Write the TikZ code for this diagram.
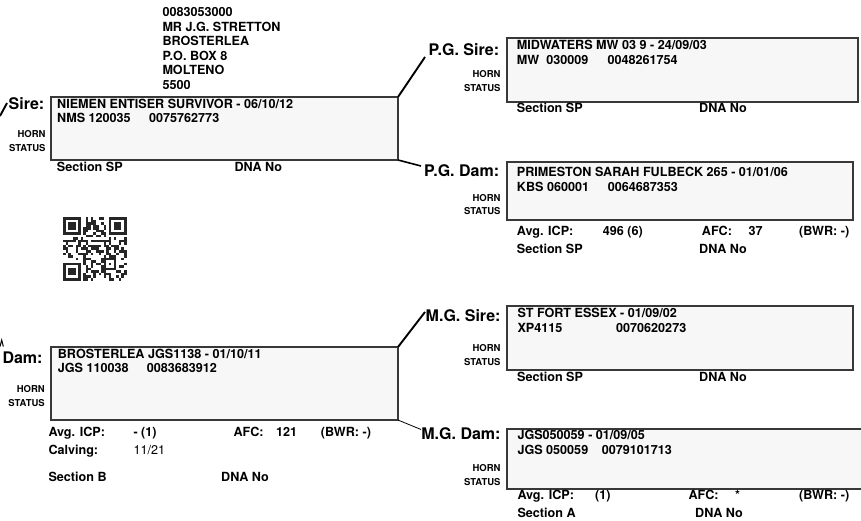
\documentclass[tikz,border=0pt]{standalone}
\usepackage{fontspec}
\setmainfont{TeX Gyre Heros}
\begin{document}
\begin{tikzpicture}[x=1pt,y=-1pt,
  lbl/.style={font=\fontsize{16}{18}\selectfont\bfseries,inner sep=0pt,anchor=base east},
  txt/.style={font=\fontsize{12.6}{15}\selectfont\bfseries,inner sep=0pt,anchor=base west},
  reg/.style={font=\fontsize{12.6}{15}\selectfont,inner sep=0pt,anchor=base west},
  sm/.style={font=\fontsize{9.5}{11}\selectfont\bfseries,inner sep=0pt,anchor=base east},
  box/.style={draw=black!78,line width=1.2pt,fill=black!3,inner sep=0pt,outer sep=0pt,anchor=north west},
  conn/.style={draw=black,line width=1.9pt},
  thinconn/.style={draw=black,line width=0.8pt}]
\useasboundingbox (0,0) rectangle (861,520);
\clip (0,0) rectangle (861,520);

% ---------- boxes ----------
\node[box,minimum width=347pt,minimum height=63pt] (sire) at (51,97) {};
\node[box,minimum width=351pt,minimum height=64pt] (pgsire) at (507,38) {};
\node[box,minimum width=346pt,minimum height=58pt] (pgdam) at (507,162) {};
\node[box,minimum width=347pt,minimum height=73pt] (dam) at (51,347) {};
\node[box,minimum width=346pt,minimum height=64pt] (mgsire) at (507,306) {};
\node[box,minimum width=363pt,minimum height=60pt] (mgdam) at (507,429) {};

% ---------- address ----------
\node[txt] (addr1) at (162.3,16.7) {0083053000};
\node[txt] (addr2) at (162.3,31.2) {MR J.G. STRETTON};
\node[txt] (addr3) at (162.3,45.7) {BROSTERLEA};
\node[txt] (addr4) at (162.3,60.1) {P.O. BOX 8};
\node[txt] (addr5) at (162.3,74.6) {MOLTENO};
\node[txt] (addr6) at (162.3,89) {5500};

% ---------- Sire ----------
\node[lbl] (sirel) at (44.5,109.3) {Sire:};
\node[txt] (sire1) at (57,108.3) {NIEMEN ENTISER SURVIVOR - 06/10/12};
\node[txt] (sire2) at (57,122.7) {NMS 120035};
\node[txt] (sire3) at (149,122.7) {0075762773};
\node[sm] (sireh) at (45.7,137.7) {HORN};
\node[sm] (sires) at (45.7,151.7) {STATUS};
\node[txt] (sirese) at (56.7,171.7) {Section SP};
\node[txt] (siredna) at (234.3,171.7) {DNA No};

% ---------- P.G. Sire ----------
\node[lbl] (pgsirel) at (499.3,55) {P.G. Sire:};
\node[txt] (pgsire1) at (516.7,49.3) {MIDWATERS MW 03 9 - 24/09/03};
\node[txt] (pgsire2) at (516.7,64) {MW\ \ 030009};
\node[txt] (pgsire3) at (607.3,64) {0048261754};
\node[sm] (pgsireh) at (500.7,77.3) {HORN};
\node[sm] (pgsires) at (500.7,91) {STATUS};
\node[txt] (pgsirese) at (516.7,112.7) {Section SP};
\node[txt] (pgsiredna) at (699,112.7) {DNA No};

% ---------- P.G. Dam ----------
\node[lbl] (pgdaml) at (499.3,176.7) {P.G. Dam:};
\node[txt] (pgdam1) at (516.7,176.7) {PRIMESTON SARAH FULBECK 265 - 01/01/06};
\node[txt] (pgdam2) at (516.7,191) {KBS 060001};
\node[txt] (pgdam3) at (607.7,191) {0064687353};
\node[sm] (pgdamh) at (500.7,201) {HORN};
\node[sm] (pgdams) at (500.7,214.3) {STATUS};
\node[txt] (pgdama) at (516.7,235) {Avg. ICP:};
\node[txt] (pgdamav) at (602.7,235) {496 (6)};
\node[txt] (pgdamf) at (701.7,235) {AFC:};
\node[txt] (pgdamfv) at (748.3,235) {37};
\node[txt] (pgdamb) at (799,235) {(BWR: -)};
\node[txt] (pgdamse) at (516.7,253.3) {Section SP};
\node[txt] (pgdamdna) at (699,253.3) {DNA No};

% ---------- Dam ----------
\node[lbl] (daml) at (42.7,363.3) {Dam:};
\node[txt] (dam1) at (57.7,358.3) {BROSTERLEA JGS1138 - 01/10/11};
\node[txt] (dam2) at (57.7,372.7) {JGS 110038};
\node[txt] (dam3) at (146.7,372.7) {0083683912};
\node[sm] (damh) at (45,392.7) {HORN};
\node[sm] (dams) at (45,406.7) {STATUS};
\node[txt] (dama) at (48.3,436.7) {Avg. ICP:};
\node[txt] (damav) at (133.3,436.7) {- (1)};
\node[txt] (damf) at (233.3,436.7) {AFC:};
\node[txt] (damfv) at (276,436.7) {121};
\node[txt] (damb) at (320.7,436.7) {(BWR: -)};
\node[txt] (damc) at (48.3,454) {Calving:};
\node[reg] (damcv) at (133.3,454) {11/21};
\node[txt] (damse) at (48.3,481.7) {Section B};
\node[txt] (damdna) at (221,481.7) {DNA No};

% ---------- M.G. Sire ----------
\node[lbl] (mgsirel) at (500.7,321.7) {M.G. Sire:};
\node[txt] (mgsire1) at (517.3,317.3) {ST FORT ESSEX - 01/09/02};
\node[txt] (mgsire2) at (517.3,332.3) {XP4115};
\node[txt] (mgsire3) at (616,332.3) {0070620273};
\node[sm] (mgsireh) at (500.7,351) {HORN};
\node[sm] (mgsires) at (500.7,365) {STATUS};
\node[txt] (mgsirese) at (517,381.7) {Section SP};
\node[txt] (mgsiredna) at (699,381.7) {DNA No};

% ---------- M.G. Dam ----------
\node[lbl] (mgdaml) at (500.7,439) {M.G. Dam:};
\node[txt] (mgdam1) at (517.3,439) {JGS050059 - 01/09/05};
\node[txt] (mgdam2) at (517.3,454) {JGS 050059};
\node[txt] (mgdam3) at (601.7,454) {0079101713};
\node[sm] (mgdamh) at (500.7,471.7) {HORN};
\node[sm] (mgdams) at (500.7,485) {STATUS};
\node[txt] (mgdama) at (517.3,499.3) {Avg. ICP:};
\node[txt] (mgdamav) at (595,499.3) {(1)};
\node[txt] (mgdamf) at (688.3,499.3) {AFC:};
\node[txt] (mgdamfv) at (735,499.3) {*};
\node[txt] (mgdamb) at (799,499.3) {(BWR: -)};
\node[txt] (mgdamse) at (517.3,517.5) {Section A};
\node[txt] (mgdamdna) at (695,517.5) {DNA No};

% ---------- connectors ----------
\coordinate (c1) at (425,57);
\coordinate (c2) at (421,166);
\coordinate (c3) at (425,312);
\coordinate (c4) at (421,429.5);
\coordinate (l1a) at (0,116);
\coordinate (l1b) at (7,103);
\coordinate (l2a) at (0,346.5);
\coordinate (l2b) at (1.7,340);
\coordinate (l2c) at (3.3,346.5);
\draw[conn] (sire.north east) -- (c1);
\draw[conn,line width=1.6pt] (sire.south east) -- (c2);
\draw[conn] (dam.north east) -- (c3);
\draw[thinconn] (dam.south east) -- (c4);
\draw[conn] (l1a) -- (l1b);
\draw[thinconn,line width=1pt] (l2a) -- (l2b) -- (l2c);

% ---------- QR code ----------
\def\qs{2.54}
\def\qx{63}
\def\qy{217}
\pgfmathsetseed{11}
\foreach \i in {0,...,24}{
  \foreach \j in {0,...,24}{
    \pgfmathrandominteger{\rr}{0}{9}
    \pgfmathparse{and(\rr<5, not(or(or(and(\i<8,\j<8),and(\i>16,\j<8)),or(and(\i<8,\j>16),and(and(\i>15,\i<21),and(\j>15,\j<21))))))}
    \ifnum\pgfmathresult=1
      \fill[black!85] ({\qx+\i*\qs},{\qy+\j*\qs}) rectangle ++(\qs,\qs);
    \fi
  }
}
\foreach \fx/\fy in {0/0,18/0,0/18}{
  \fill[black!85] ({\qx+\fx*\qs},{\qy+\fy*\qs}) rectangle ++(7*\qs,7*\qs);
  \fill[white] ({\qx+(\fx+1)*\qs},{\qy+(\fy+1)*\qs}) rectangle ++(5*\qs,5*\qs);
  \fill[black!85] ({\qx+(\fx+2)*\qs},{\qy+(\fy+2)*\qs}) rectangle ++(3*\qs,3*\qs);
}
\fill[black!85] ({\qx+16*\qs},{\qy+16*\qs}) rectangle ++(5*\qs,5*\qs);
\fill[white] ({\qx+17*\qs},{\qy+17*\qs}) rectangle ++(3*\qs,3*\qs);
\fill[black!85] ({\qx+18*\qs},{\qy+18*\qs}) rectangle ++(\qs,\qs);
\end{tikzpicture}
\end{document}
